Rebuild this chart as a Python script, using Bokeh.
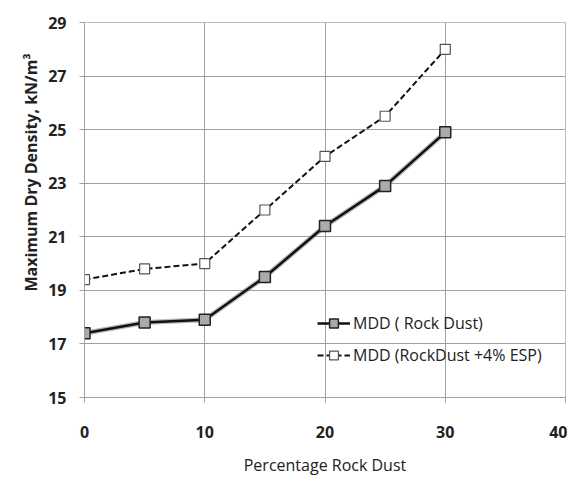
from bokeh.plotting import figure
from bokeh.models import ColumnDataSource, Legend, LegendItem, FixedTicker, Range1d, Title
from bokeh.embed import file_html
from bokeh.resources import INLINE

rock_dust_pct = [0, 5, 10, 15, 20, 25, 30]
mdd_rock_dust = [17.4, 17.8, 17.9, 19.5, 21.4, 22.9, 24.9]
mdd_rock_dust_esp = [19.4, 19.8, 20.0, 22.0, 24.0, 25.5, 28.0]
x_ticks = [0, 10, 20, 30, 40]
y_ticks = [15, 17, 19, 21, 23, 25, 27, 29]

FONT = "Open Sans"

p = figure(width=567, height=482, output_backend="svg", toolbar_location=None,
           x_range=Range1d(0, 40), y_range=Range1d(15, 29),
           min_border_left=84, min_border_right=2, min_border_top=22, min_border_bottom=85)
p.outline_line_color = "#bdbdbd"
p.background_fill_color = "white"
p.border_fill_color = "white"

src = ColumnDataSource(dict(x=rock_dust_pct, a=mdd_rock_dust, b=mdd_rock_dust_esp))

r2_line = p.line("x", "b", source=src, line_color="#111111", line_width=2, line_dash="6 3")
r2_mark = p.scatter("x", "b", source=src, marker="square", size=10,
                    line_color="#555555", fill_color="white", line_width=1.2)
p.line("x", "a", source=src, line_color="#888888", line_width=5, alpha=0.6)
r1_line = p.line("x", "a", source=src, line_color="#111111", line_width=2.5)
r1_mark = p.scatter("x", "a", source=src, marker="square", size=11,
                    line_color="#222222", fill_color="#aaaaaa", line_width=1.5)

p.xaxis.ticker = FixedTicker(ticks=x_ticks)
p.yaxis.ticker = FixedTicker(ticks=y_ticks)
p.xgrid.ticker = FixedTicker(ticks=x_ticks)
p.ygrid.ticker = FixedTicker(ticks=y_ticks)
p.xgrid.grid_line_color = "#a0a0a0"
p.ygrid.grid_line_color = "#a0a0a0"

for ax in (p.xaxis, p.yaxis):
    ax.axis_line_color = "#a0a0a0"
    ax.major_tick_line_color = "#a0a0a0"
    ax.major_tick_in = 0
    ax.major_tick_out = 5
    ax.minor_tick_line_color = None
    ax.major_label_text_font = FONT
    ax.major_label_text_font_style = "bold"
    ax.major_label_text_font_size = "16px"
    ax.major_label_text_color = "#222222"
    ax.axis_label_text_font = FONT
    ax.axis_label_text_color = "#222222"

p.yaxis.major_label_standoff = 13
p.xaxis.major_label_standoff = 23
p.xaxis.axis_label = "Percentage Rock Dust"
p.xaxis.axis_label_text_font_style = "normal"
p.xaxis.axis_label_text_font_size = "16px"
p.xaxis.axis_label_standoff = 13

ytitle = Title(text="Maximum Dry Density, kN/m³", align="right", offset=31,
               text_font=FONT, text_font_style="bold", text_font_size="16px",
               text_color="#222222", standoff=8)
p.add_layout(ytitle, "left")

legend = Legend(items=[
    LegendItem(label="MDD ( Rock Dust)", renderers=[r1_line, r1_mark]),
    LegendItem(label="MDD (RockDust +4% ESP)", renderers=[r2_line, r2_mark]),
], location=(233, 31))
legend.border_line_color = None
legend.background_fill_alpha = 0
legend.padding = 0
legend.margin = 0
legend.spacing = 10
legend.glyph_width = 33
legend.glyph_height = 22
legend.label_standoff = 3
legend.label_text_font = FONT
legend.label_text_font_size = "16px"
legend.label_text_color = "#222222"
p.add_layout(legend)

open("out.html", "w").write(file_html(p, INLINE))
